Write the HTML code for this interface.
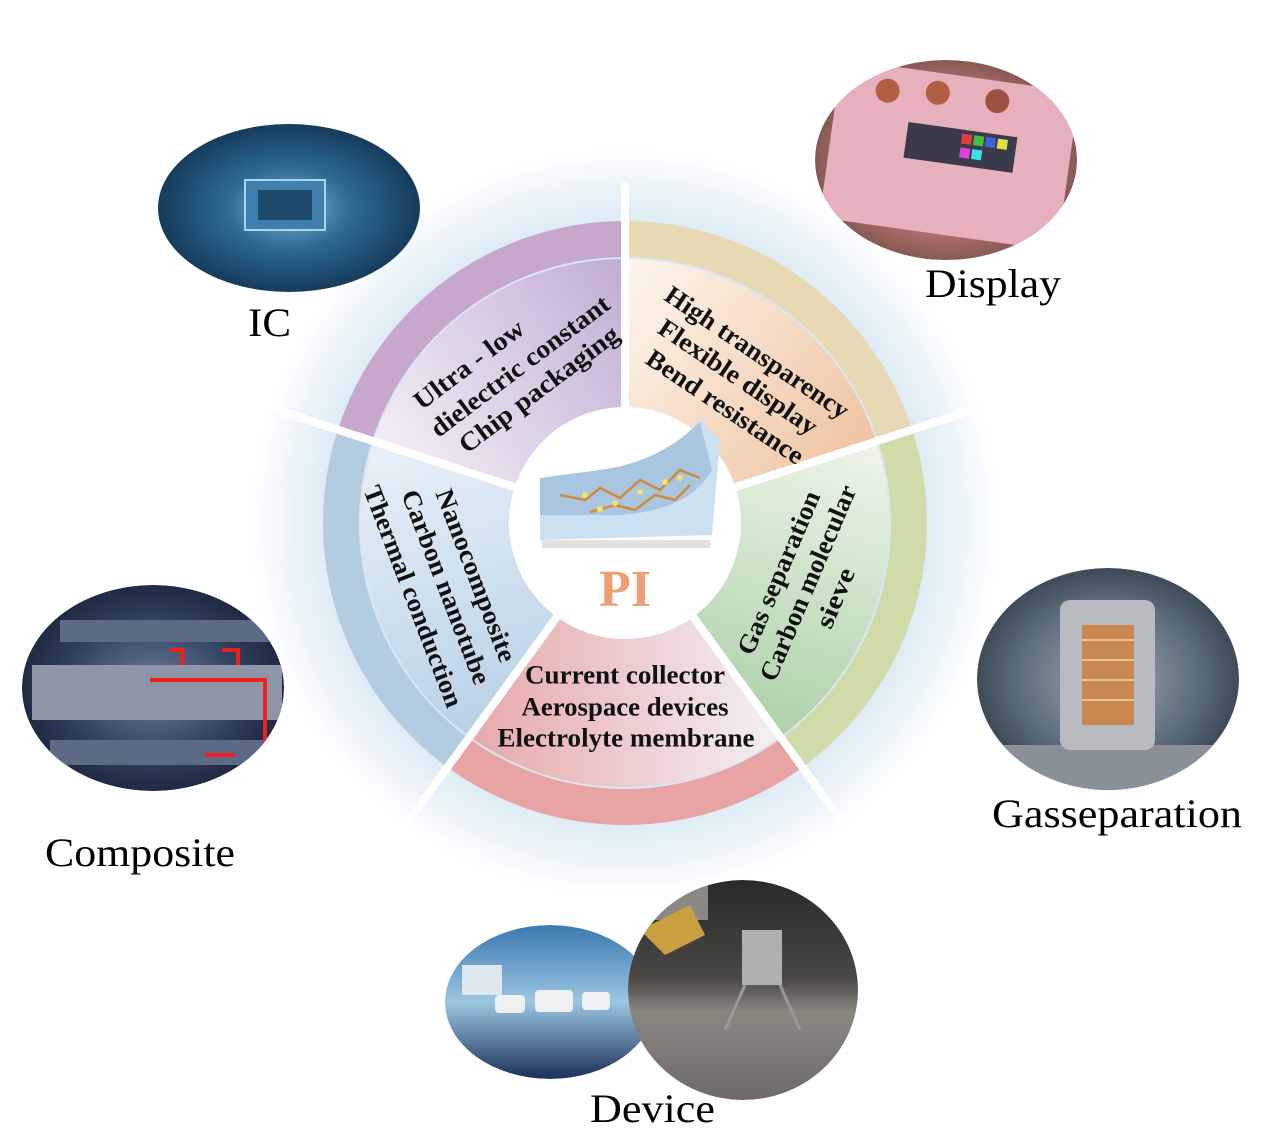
<!DOCTYPE html>
<html><head><meta charset="utf-8"><style>html,body{margin:0;padding:0;background:#fff}svg{display:block}</style></head>
<body>
<svg width="1276" height="1134" viewBox="0 0 1276 1134" xmlns="http://www.w3.org/2000/svg">
<defs>
<radialGradient id="glow" cx="625" cy="523" r="375" gradientUnits="userSpaceOnUse">
<stop offset="0.75" stop-color="#d8e8f3"/><stop offset="0.88" stop-color="#e8f2f8"/><stop offset="1" stop-color="#ffffff"/></radialGradient>
<linearGradient id="gP" x1="0" y1="0" x2="1" y2="0"><stop offset="0" stop-color="#f4eef6"/><stop offset="1" stop-color="#c0acd2"/></linearGradient>
<linearGradient id="gO" x1="0" y1="0" x2="1" y2="0"><stop offset="0" stop-color="#fdf6ef"/><stop offset="1" stop-color="#eec3a0"/></linearGradient>
<linearGradient id="gG" x1="0" y1="0" x2="1" y2="0"><stop offset="0" stop-color="#eef5ea"/><stop offset="1" stop-color="#add0a9"/></linearGradient>
<linearGradient id="gR" x1="0" y1="0" x2="1" y2="0"><stop offset="0" stop-color="#f3f0f3"/><stop offset="1" stop-color="#e7a8aa"/></linearGradient>
<linearGradient id="gB" x1="0" y1="0" x2="1" y2="0"><stop offset="0" stop-color="#b9d1e5"/><stop offset="1" stop-color="#e8f1f8"/></linearGradient>
<radialGradient id="pIC" cx="0.5" cy="0.5" r="0.6"><stop offset="0" stop-color="#7fb3d6"/><stop offset="0.4" stop-color="#2d6a94"/><stop offset="1" stop-color="#0d2a45"/></radialGradient>
<radialGradient id="pDI" cx="0.5" cy="0.5" r="0.6"><stop offset="0" stop-color="#d99aa8"/><stop offset="0.6" stop-color="#b07070"/><stop offset="1" stop-color="#6a4a40"/></radialGradient>
<radialGradient id="pGS" cx="0.5" cy="0.5" r="0.6"><stop offset="0" stop-color="#a0a8b0"/><stop offset="0.6" stop-color="#5a6a78"/><stop offset="1" stop-color="#2a3440"/></radialGradient>
<radialGradient id="pCO" cx="0.5" cy="0.5" r="0.6"><stop offset="0" stop-color="#6a7d99"/><stop offset="0.6" stop-color="#2f3c5c"/><stop offset="1" stop-color="#141c30"/></radialGradient>
<linearGradient id="pCar" x1="0" y1="0" x2="0" y2="1"><stop offset="0" stop-color="#3a78b0"/><stop offset="0.5" stop-color="#9cc6e2"/><stop offset="1" stop-color="#1a3058"/></linearGradient>
<linearGradient id="pMoon" x1="0" y1="0" x2="0" y2="1"><stop offset="0" stop-color="#2a2a2a"/><stop offset="0.45" stop-color="#4a4845"/><stop offset="0.6" stop-color="#8a8680"/><stop offset="1" stop-color="#6e6a66"/></linearGradient>
<clipPath id="cDI"><ellipse cx="946" cy="160" rx="131" ry="100"/></clipPath>
<clipPath id="cCO"><ellipse cx="153" cy="688" rx="131" ry="103"/></clipPath>
<clipPath id="cGS"><ellipse cx="1108" cy="679" rx="131" ry="111"/></clipPath>
<clipPath id="cMO"><ellipse cx="743" cy="990" rx="115" ry="110"/></clipPath>
<clipPath id="cCA"><ellipse cx="550" cy="1002" rx="105" ry="77"/></clipPath>
</defs>

<circle cx="625" cy="523" r="375" fill="url(#glow)"/>

<g transform="translate(625,523)">
 <g transform="rotate(-36)">
  <path d="M-177.5,-244.3 A302 302 0 0 1 177.5,-244.3 L156.4,-215.2 A266 266 0 0 0 -156.4,-215.2 Z" fill="#c7a8cb"/>
  <path d="M-155.2,-213.6 A264 264 0 0 1 155.2,-213.6 L67.6,-93 A115 115 0 0 0 -67.6,-93 Z" fill="url(#gP)"/>
 </g>
 <g transform="rotate(36)">
  <path d="M-177.5,-244.3 A302 302 0 0 1 177.5,-244.3 L156.4,-215.2 A266 266 0 0 0 -156.4,-215.2 Z" fill="#e7d9b3"/>
  <path d="M-155.2,-213.6 A264 264 0 0 1 155.2,-213.6 L67.6,-93 A115 115 0 0 0 -67.6,-93 Z" fill="url(#gO)"/>
 </g>
 <g transform="rotate(108)">
  <path d="M-177.5,-244.3 A302 302 0 0 1 177.5,-244.3 L156.4,-215.2 A266 266 0 0 0 -156.4,-215.2 Z" fill="#cfdca9"/>
  <path d="M-155.2,-213.6 A264 264 0 0 1 155.2,-213.6 L67.6,-93 A115 115 0 0 0 -67.6,-93 Z" fill="url(#gG)"/>
 </g>
 <g transform="rotate(180)">
  <path d="M-177.5,-244.3 A302 302 0 0 1 177.5,-244.3 L156.4,-215.2 A266 266 0 0 0 -156.4,-215.2 Z" fill="#e8a3a5"/>
  <path d="M-155.2,-213.6 A264 264 0 0 1 155.2,-213.6 L67.6,-93 A115 115 0 0 0 -67.6,-93 Z" fill="url(#gR)"/>
 </g>
 <g transform="rotate(252)">
  <path d="M-177.5,-244.3 A302 302 0 0 1 177.5,-244.3 L156.4,-215.2 A266 266 0 0 0 -156.4,-215.2 Z" fill="#b3cce0"/>
  <path d="M-155.2,-213.6 A264 264 0 0 1 155.2,-213.6 L67.6,-93 A115 115 0 0 0 -67.6,-93 Z" fill="url(#gB)"/>
 </g>
 <g stroke="#ffffff" stroke-width="8">
  <line x1="0" y1="-100" x2="0" y2="-340"/>
  <line x1="0" y1="-100" x2="0" y2="-370" transform="rotate(72)"/>
  <line x1="0" y1="-100" x2="0" y2="-370" transform="rotate(144)"/>
  <line x1="0" y1="-100" x2="0" y2="-370" transform="rotate(216)"/>
  <line x1="0" y1="-100" x2="0" y2="-370" transform="rotate(288)"/>
 </g>
 <circle cx="0" cy="0" r="116" fill="#ffffff"/>
</g>

<g>
 <path d="M540,478 L600,470 Q660,465 700,420 L720,440 L712,535 L540,540 Z" fill="#cde0f0"/>
 <path d="M540,478 L600,470 Q660,462 700,422 L712,470 Q690,510 620,515 L540,515 Z" fill="#a9c6e0"/>
 <rect x="542" y="540" width="168" height="8" fill="#e2e2e2"/>
 <g stroke="#d08a3a" stroke-width="2.5" fill="none">
  <path d="M560,495 L585,500 L600,488 L620,498 L640,480 L660,490 L680,470 L700,478"/>
  <path d="M590,512 L615,505 L635,510 L655,495 L675,500 L690,485"/>
 </g>
 <g fill="#f3e36a"><circle cx="585" cy="495" r="3"/><circle cx="615" cy="503" r="3"/><circle cx="640" cy="492" r="3"/><circle cx="665" cy="482" r="3"/><circle cx="600" cy="509" r="3"/><circle cx="680" cy="478" r="3"/></g>
</g>
<text x="625" y="606" text-anchor="middle" font-family="Liberation Serif, serif" font-weight="bold" font-size="52" fill="#eb9f72">PI</text>

<g font-family="Liberation Serif, serif" font-weight="bold" font-size="26" fill="#111" text-anchor="middle" dominant-baseline="central">
 <g transform="translate(520,366) rotate(-37)">
  <text x="-40" y="-32" textLength="131" lengthAdjust="spacingAndGlyphs">Ultra - low</text>
  <text x="0" y="0" textLength="217" lengthAdjust="spacingAndGlyphs">dielectric constant</text>
  <text x="1" y="30" textLength="193" lengthAdjust="spacingAndGlyphs">Chip packaging</text>
 </g>
 <g transform="translate(738,377) rotate(34)">
  <text x="2" y="-31" textLength="216" lengthAdjust="spacingAndGlyphs">High transparency</text>
  <text x="0" y="0" textLength="186" lengthAdjust="spacingAndGlyphs">Flexible display</text>
  <text x="6" y="32" textLength="184" lengthAdjust="spacingAndGlyphs">Bend resistance</text>
 </g>
 <g transform="translate(808,583) rotate(-67)">
  <text x="-2" y="-31" textLength="175" lengthAdjust="spacingAndGlyphs">Gas separation</text>
  <text x="0" y="0" textLength="210" lengthAdjust="spacingAndGlyphs">Carbon molecular</text>
  <text x="-3" y="31" textLength="63" lengthAdjust="spacingAndGlyphs">sieve</text>
 </g>
 <g transform="translate(446,587) rotate(69)">
  <text x="0" y="-32" textLength="183" lengthAdjust="spacingAndGlyphs">Nanocomposite</text>
  <text x="0" y="0" textLength="206" lengthAdjust="spacingAndGlyphs">Carbon nanotube</text>
  <text x="-3" y="34" textLength="235" lengthAdjust="spacingAndGlyphs">Thermal conduction</text>
 </g>
 <text x="625" y="675" textLength="200" lengthAdjust="spacingAndGlyphs">Current collector</text>
 <text x="625" y="707" textLength="207" lengthAdjust="spacingAndGlyphs">Aerospace devices</text>
 <text x="626" y="738" textLength="257" lengthAdjust="spacingAndGlyphs">Electrolyte membrane</text>
</g>

<ellipse cx="289" cy="208" rx="131" ry="84" fill="url(#pIC)"/>
<rect x="245" y="180" width="80" height="50" fill="#3f7fae" stroke="#a8d4f0" stroke-width="2"/>
<rect x="258" y="190" width="54" height="30" fill="#1e4a6e"/>

<g clip-path="url(#cDI)">
<ellipse cx="946" cy="160" rx="131" ry="100" fill="url(#pDI)"/>
<g transform="rotate(8 950 150)">
<rect x="830" y="75" width="240" height="160" rx="6" fill="#e7b0bd"/>
<rect x="905" y="128" width="110" height="36" fill="#3a3a4a"/>
<rect x="960" y="132" width="10" height="10" fill="#e04040"/><rect x="972" y="132" width="10" height="10" fill="#40c040"/><rect x="984" y="132" width="10" height="10" fill="#4060e0"/><rect x="996" y="132" width="10" height="10" fill="#e0e040"/><rect x="960" y="146" width="10" height="10" fill="#e040e0"/><rect x="972" y="146" width="10" height="10" fill="#40e0e0"/>
<circle cx="880" cy="100" r="12" fill="#b06040"/><circle cx="930" cy="95" r="12" fill="#b06040"/><circle cx="990" cy="95" r="12" fill="#a05040"/>
</g>
</g>

<g clip-path="url(#cGS)">
<ellipse cx="1108" cy="679" rx="131" ry="111" fill="url(#pGS)"/>
<rect x="977" y="745" width="262" height="50" fill="#8a9098"/>
<rect x="1060" y="600" width="95" height="150" rx="10" fill="#b8bcc0"/>
<rect x="1082" y="625" width="52" height="100" fill="#c88850"/>
<g stroke="#e8c090" stroke-width="2"><line x1="1082" y1="640" x2="1134" y2="640"/><line x1="1082" y1="660" x2="1134" y2="660"/><line x1="1082" y1="680" x2="1134" y2="680"/><line x1="1082" y1="700" x2="1134" y2="700"/></g>
</g>

<g clip-path="url(#cCO)">
<ellipse cx="153" cy="688" rx="131" ry="103" fill="url(#pCO)"/>
<rect x="32" y="665" width="250" height="55" fill="#8d95a6"/>
<rect x="60" y="620" width="220" height="22" fill="#5d6a86"/>
<rect x="50" y="740" width="230" height="25" fill="#5d6a86"/>
<g stroke="#ee2020" stroke-width="4" fill="none"><path d="M150,680 L265,680 L265,760"/><path d="M170,650 L182,650 L182,665"/><path d="M222,650 L238,650 L238,665"/><path d="M205,755 L235,755"/></g>
</g>

<g clip-path="url(#cCA)">
<ellipse cx="550" cy="1002" rx="105" ry="77" fill="url(#pCar)"/>
<rect x="462" y="965" width="40" height="30" fill="#dde8f0"/>
<g fill="#eef0f2"><rect x="495" y="995" width="30" height="18" rx="4"/><rect x="535" y="990" width="38" height="22" rx="4"/><rect x="582" y="992" width="28" height="18" rx="4"/></g>
</g>
<g clip-path="url(#cMO)">
<ellipse cx="743" cy="990" rx="115" ry="110" fill="url(#pMoon)"/>
<rect x="628" y="880" width="80" height="40" fill="#8a8884"/>
<path d="M640,930 L690,905 L705,935 L665,955 Z" fill="#c8a040"/>
<rect x="742" y="930" width="40" height="55" fill="#b0b0b0"/>
<g stroke="#999" stroke-width="3"><line x1="745" y1="985" x2="725" y2="1030"/><line x1="780" y1="985" x2="800" y2="1030"/></g>
</g>

<g font-family="Liberation Serif, serif" font-size="40" fill="#000">
 <text x="248" y="336" textLength="43" lengthAdjust="spacingAndGlyphs">IC</text>
 <text x="925" y="297" textLength="136" lengthAdjust="spacingAndGlyphs">Display</text>
 <text x="992" y="827" textLength="250" lengthAdjust="spacingAndGlyphs">Gasseparation</text>
 <text x="45" y="866" textLength="190" lengthAdjust="spacingAndGlyphs">Composite</text>
 <text x="590" y="1122" textLength="125" lengthAdjust="spacingAndGlyphs">Device</text>
</g>
</svg>
</body></html>
